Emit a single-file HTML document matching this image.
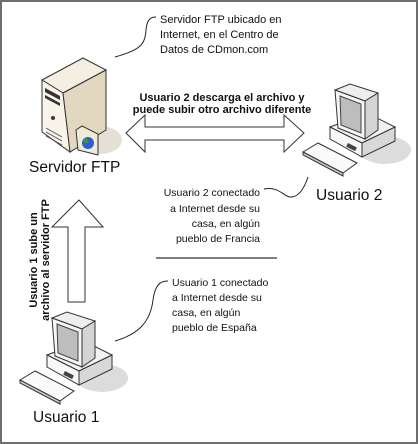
<!DOCTYPE html>
<html><head><meta charset="utf-8"><style>
html,body{margin:0;padding:0;background:#fff}
svg{display:block}
text{font-family:"Liberation Sans",Arial,sans-serif;fill:#111}
</style></head><body>
<svg width="418" height="444" viewBox="0 0 418 444" xmlns="http://www.w3.org/2000/svg">
<rect x="1" y="1" width="416" height="442" fill="#fff" stroke="#6e6e6e" stroke-width="2"/>

<!-- server callout -->
<path d="M115,57 C140,50 145,45 146,30 C147,20 150,17 156,17" fill="none" stroke="#222" stroke-width="1"/>
<text font-size="11"><tspan x="160" y="23">Servidor FTP ubicado en</tspan><tspan x="160" y="38">Internet, en el Centro de</tspan><tspan x="160" y="53">Datos de CDmon.com</tspan></text>

<!-- server -->
<ellipse cx="100" cy="140" rx="22" ry="14" fill="#e4e0d6"/>
<polygon points="42,80 83,58 106,70 63,93" fill="#f4efe2" stroke="#333" stroke-width="1"/>
<polygon points="42,80 63,93 70,152 42,132" fill="#f8f4ea" stroke="#333" stroke-width="1"/>
<polygon points="63,93 106,70 106,130 70,152" fill="#e2d8bf" stroke="#333" stroke-width="1"/>
<polygon points="45,88 60,96 60,100 45,92" fill="#333"/>
<polygon points="45,95 60,103 60,106 45,98" fill="#333"/>
<circle cx="53" cy="118" r="2" fill="#335"/>
<line x1="46" y1="128" x2="62" y2="137" stroke="#555"/>
<line x1="46" y1="132" x2="62" y2="141" stroke="#555"/>
<line x1="46" y1="136" x2="62" y2="145" stroke="#555"/>
<polygon points="76,130 82,126 98,134 98,155 78,150" fill="#f0ead8" stroke="#333"/>
<circle cx="88" cy="143" r="6" fill="#2a5fd0"/>
<circle cx="86" cy="141" r="2.5" fill="#3a9a2a"/>
<text x="29" y="172" font-size="15.5">Servidor FTP</text>

<!-- double arrow -->
<polygon points="126,133 145,115 145,127 284,127 284,115 304,133 284,152 284,140 145,140 145,152" fill="#fff" stroke="#333" stroke-width="1"/>
<text font-size="11" font-weight="bold" text-anchor="middle"><tspan x="222" y="101">Usuario 2 descarga el archivo y</tspan><tspan x="222" y="113">puede subir otro archivo diferente</tspan></text>

<!-- computer 2 -->
<g id="pc">
<ellipse cx="385" cy="150" rx="26" ry="14" fill="#dcdcdc"/>
<polygon points="330,127 367,113 395,127 362,143" fill="#f2f2f2" stroke="#333"/>
<polygon points="330,127 362,143 362,157 330,139" fill="#f8f8f8" stroke="#333"/>
<polygon points="362,143 395,127 395,141 362,157" fill="#d8d8d8" stroke="#333"/>
<rect x="348" y="143" width="10" height="4" fill="#444" transform="rotate(27 348 143)"/>
<polygon points="335,90 350,84 378,93 365,101" fill="#eee" stroke="#333"/>
<polygon points="335,90 365,101 365,139 338,128" fill="#f6f6f6" stroke="#333"/>
<polygon points="365,101 378,93 378,130 365,139" fill="#d4d4d4" stroke="#333"/>
<polygon points="340,96 361,104 361,133 341,125" fill="#bdbdbd" stroke="#444"/>
<polygon points="303,152 318,143 357,163 343,173" fill="#fafafa" stroke="#333"/>
<polygon points="303,152 343,173 343,176 303,155" fill="#ccc" stroke="#333"/>
</g>
<text x="316" y="200" font-size="15.5">Usuario 2</text>

<!-- user2 callout -->
<path d="M264,189 C280,186 284,198 292,197 C300,196 305,186 308,177" fill="none" stroke="#222"/>
<text font-size="10.5" text-anchor="end"><tspan x="260" y="196">Usuario 2 conectado</tspan><tspan x="260" y="212">a Internet desde su</tspan><tspan x="260" y="227">casa, en algún</tspan><tspan x="260" y="242">pueblo de Francia</tspan></text>
<line x1="156" y1="258" x2="277" y2="258" stroke="#555" stroke-width="1.5"/>

<!-- up arrow -->
<polygon points="79,200 103,227 85,227 85,302 68,302 68,227 52,227" fill="#fff" stroke="#333"/>
<text font-size="11" font-weight="bold" text-anchor="middle" transform="translate(37,260) rotate(-90)"><tspan x="0" y="0">Usuario 1 sube un</tspan><tspan x="0" y="12">archivo al servidor FTP</tspan></text>

<!-- user1 callout -->
<path d="M115,341 C135,335 150,325 153,300 C155,285 160,281 168,281" fill="none" stroke="#222"/>
<text font-size="10.5"><tspan x="172" y="286">Usuario 1 conectado</tspan><tspan x="172" y="301">a Internet desde su</tspan><tspan x="172" y="316">casa, en algún</tspan><tspan x="172" y="331">pueblo de España</tspan></text>

<use href="#pc" transform="translate(-283,228)"/>
<text x="33" y="422" font-size="15.5">Usuario 1</text>
</svg>
</body></html>
